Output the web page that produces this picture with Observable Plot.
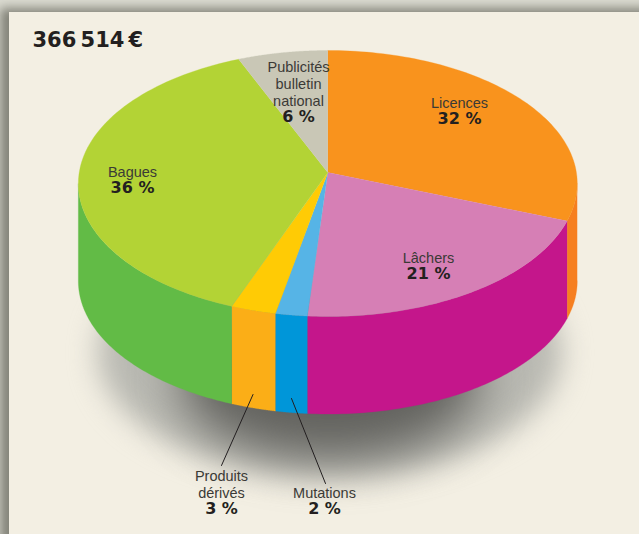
<!DOCTYPE html>
<html><head><meta charset="utf-8">
<style>
html,body{margin:0;padding:0;width:639px;height:534px;overflow:hidden;background:#dcdcd2}
#panel{position:absolute;left:9px;top:12px;width:680px;height:600px;background:#f3efe3;box-shadow:-6px -1px 10px 3px rgba(60,60,50,.55)}
#chart{position:absolute;left:0;top:0}
svg{display:block}
</style>
<script src="https://cdn.jsdelivr.net/npm/d3@7"></script>
<script src="https://cdn.jsdelivr.net/npm/@observablehq/plot@0.6"></script>
</head><body><div id="panel"></div><div id="chart"></div>
<script>
// Data
const total = "366\u2009514\u2009€";
const categories = ["Licences", "Lâchers", "Mutations", "Produits dérivés", "Bagues", "Publicités bulletin national"];
const percentLabels = ["32 %", "21 %", "2 %", "3 %", "36 %", "6 %"];
// share of the disc each slice really occupies as drawn in the picture (%)
const drawnShares = [30.8, 20.4, 1.9, 2.7, 37.9, 6.3];
const topColors  = ["#f9931d", "#d67fb5", "#56b4e6", "#ffcb05", "#b3d335", "#c9c7b6"];
const wallColors = ["#f67f20", "#c4168b", "#0096d9", "#fbae17", "#62bb46", "#c9c7b6"];

// Layout of the text and the view
const nameLines = ["Licences", "Lâchers", "Mutations", "Produits\ndérivés", "Bagues", "Publicités\nbulletin\nnational"];
const labelX = [459, 428, 324, 221, 132, 298];
const valueY = [118, 273, 508, 508, 187, 116];
const leaders = [
  {id: "Produits", x: 252.5, y: 394}, {id: "Produits", x: 221, y: 465},
  {id: "Mutations", x: 291, y: 398}, {id: "Mutations", x: 325, y: 483}
];
const view = {cx: 327.3, cy: 172, rx: 248.6, ryScale: 132.1, persp: 0.0827, depth: 97.5};

// Perspective view of a disc: t is the share of the turn, clockwise from the top
const project = (t, r = 1) => {
  const a = t * 2 * Math.PI, s = Math.sin(a), c = Math.cos(a), w = 1 + view.persp * c;
  return {x: view.cx + r * view.rx * s / w, y: view.cy - r * view.ryScale * c / w};
};
const sumShares = d3.sum(drawnShares);
const bounds = d3.cumsum([0, ...drawnShares]).map(v => v / sumShares);
const span = (a, b) => d3.range(0, 81).map(k => a + (b - a) * k / 80);
// The silhouette of the side wall runs between the two extreme points of the rim
const tangentR = Math.acos(-view.persp) / (2 * Math.PI);
const tangentL = 1 - tangentR;

const topFace = (i) => [{x: view.cx, y: view.cy}, ...span(bounds[i], bounds[i + 1]).map(t => project(t))];
const wall = (i) => {
  const a = Math.max(bounds[i], tangentR), b = Math.min(bounds[i + 1], tangentL);
  if (a >= b) return [];
  const arc = span(a, b);
  return [
    ...arc.map(t => project(t)),
    ...arc.slice().reverse().map(t => { const p = project(t); return {x: p.x, y: p.y + view.depth}; })
  ];
};
const shadowRing = (r, drop) => d3.range(0, 121).map(k => {
  const p = project(k / 120, r);
  return {x: p.x + 2, y: p.y + drop};
});

const lightText = {fontFamily: "'Liberation Sans'", fontSize: 14.5, fill: "#3b3a36", letterSpacing: "-0.6px"};
const boldText = {fontFamily: "'DejaVu Sans'", fontWeight: "bold", fontSize: 16, fill: "#231f20", textAnchor: "middle"};
const idx = d3.range(categories.length);

const plot = Plot.plot({
  width: 639, height: 534, margin: 0,
  style: {background: "transparent", overflow: "visible"},
  x: {domain: [0, 639], range: [0, 639], axis: null},
  y: {domain: [0, 534], range: [0, 534], axis: null},
  marks: [
    Plot.line(shadowRing(0.93, 170), {x: "x", y: "y", fill: "#b9b9b2", stroke: "none", imageFilter: "blur(14px)"}),
    Plot.line(shadowRing(0.6, 200), {x: "x", y: "y", fill: "#62625e", stroke: "none", imageFilter: "blur(24px)"}),
    ...idx.map(i => Plot.line(wall(i), {x: "x", y: "y", fill: wallColors[i], stroke: wallColors[i], strokeWidth: 0.3})),
    ...idx.map(i => Plot.line(topFace(i), {x: "x", y: "y", fill: topColors[i], stroke: topColors[i], strokeWidth: 0.3})),
    Plot.line(leaders, {x: "x", y: "y", z: "id", stroke: "#231f20", strokeWidth: 1}),
    Plot.text(idx, {x: i => labelX[i], y: i => valueY[i] - 11, text: i => nameLines[i], lineAnchor: "bottom", lineHeight: 1.14, ...lightText}),
    Plot.text(idx, {x: i => labelX[i], y: i => valueY[i] + 0.5, text: i => percentLabels[i], ...boldText}),
    Plot.text([total], {x: () => 32, y: () => 39.5, text: d => d, textAnchor: "start", fontFamily: "'DejaVu Sans'", fontWeight: "bold", fontSize: 21, fill: "#231f20", letterSpacing: "-0.2px"})
  ]
});
document.getElementById("chart").appendChild(plot);
</script></body></html>
